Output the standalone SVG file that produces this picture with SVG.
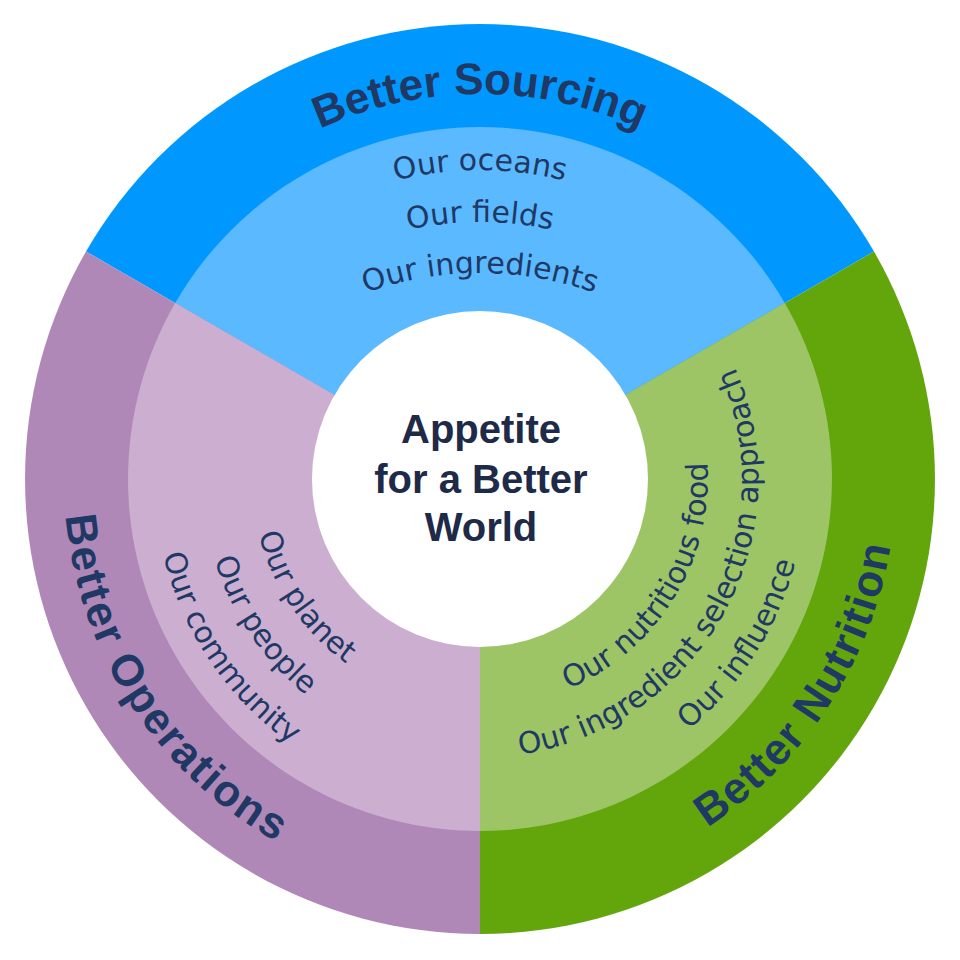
<svg xmlns="http://www.w3.org/2000/svg" xmlns:xlink="http://www.w3.org/1999/xlink" width="960" height="960" viewBox="0 0 960 960">
<defs>
<style>
.title{font-family:"Liberation Sans",Arial,sans-serif;font-weight:bold;font-size:44px;fill:#203864;}
.item{font-family:"DejaVu Sans","Liberation Sans",sans-serif;font-size:30px;fill:#203864;}
.center{font-family:"Liberation Sans",Arial,sans-serif;font-weight:bold;font-size:40px;fill:#1E2A47;}
</style>
<path id="pSrc" d="M118.2,347.3 A385,385 0 0 1 841.8,347.3"/>
<path id="pOps" d="M109.3,290.1 A416,416 0 0 0 501.8,894.4"/>
<path id="pNut" d="M458.2,894.4 A416,416 0 0 0 850.7,290.1"/>
<path id="pS1" d="M310,215.6 A340,340 0 0 1 650,215.6"/>
<path id="pS2" d="M310,267.6 A340,340 0 0 1 650,267.6"/>
<path id="pS3" d="M310,318.6 A340,340 0 0 1 650,318.6"/>
<path id="pO1" d="M336.5,301.8 A228,228 0 0 0 590.5,678.4"/>
<path id="pO2" d="M305.1,263.0 A278,278 0 0 0 614.8,722.1"/>
<path id="pO3" d="M274.8,225.7 A326,326 0 0 0 638.0,764.1"/>
<path id="pN1" d="M378.3,683.0 A228,228 0 0 0 615.6,295.7"/>
<path id="pN2" d="M366.9,733.0 A278,278 0 0 0 635.5,248.5"/>
<path id="pN3" d="M329.5,768.2 A326,326 0 0 0 678.5,220.4"/>
</defs>

<g id="sourcing">
<path d="M480,479 L86,251.5 A455,455 0 0 1 874,251.5 Z" fill="#0097FE"/>
<path d="M480,479 L175.2,303 A352,352 0 0 1 784.8,303 Z" fill="#5BB9FF"/>
<text class="title"><textPath href="#pSrc" startOffset="50%" text-anchor="middle">Better Sourcing</textPath></text>
<text class="item"><textPath href="#pS1" startOffset="50%" text-anchor="middle">Our oceans</textPath></text>
<text class="item"><textPath href="#pS2" startOffset="50%" text-anchor="middle">Our fields</textPath></text>
<text class="item"><textPath href="#pS3" startOffset="50%" text-anchor="middle">Our ingredients</textPath></text>
</g>

<g id="nutrition">
<path d="M480,479 L874,251.5 A455,455 0 0 1 480,934 Z" fill="#62A60C"/>
<path d="M480,479 L784.8,303 A352,352 0 0 1 480,831 Z" fill="#9DC566"/>
<text class="title" letter-spacing="1.5"><textPath href="#pNut" startOffset="50%" text-anchor="middle">Better Nutrition</textPath></text>
<text class="item"><textPath href="#pN1" startOffset="50%" text-anchor="middle">Our nutritious food</textPath></text>
<text class="item"><textPath href="#pN2" startOffset="50%" text-anchor="middle">Our ingredient selection approach</textPath></text>
<text class="item"><textPath href="#pN3" startOffset="50%" text-anchor="middle">Our influence</textPath></text>
</g>

<g id="operations">
<path d="M480,479 L480,934 A455,455 0 0 1 86,251.5 Z" fill="#B088B8"/>
<path d="M480,479 L480,831 A352,352 0 0 1 175.2,303 Z" fill="#CCAED1"/>
<text class="title" letter-spacing="2"><textPath href="#pOps" startOffset="50%" text-anchor="middle">Better Operations</textPath></text>
<text class="item"><textPath href="#pO1" startOffset="50%" text-anchor="middle">Our planet</textPath></text>
<text class="item"><textPath href="#pO2" startOffset="50%" text-anchor="middle">Our people</textPath></text>
<text class="item"><textPath href="#pO3" startOffset="50%" text-anchor="middle">Our community</textPath></text>
</g>

<g id="center">
<circle cx="480" cy="479" r="168" fill="#FFFFFF"/>
<text class="center" x="481" y="443" text-anchor="middle">Appetite</text>
<text class="center" x="481" y="493" text-anchor="middle">for a Better</text>
<text class="center" x="481" y="541" text-anchor="middle">World</text>
</g>
</svg>
